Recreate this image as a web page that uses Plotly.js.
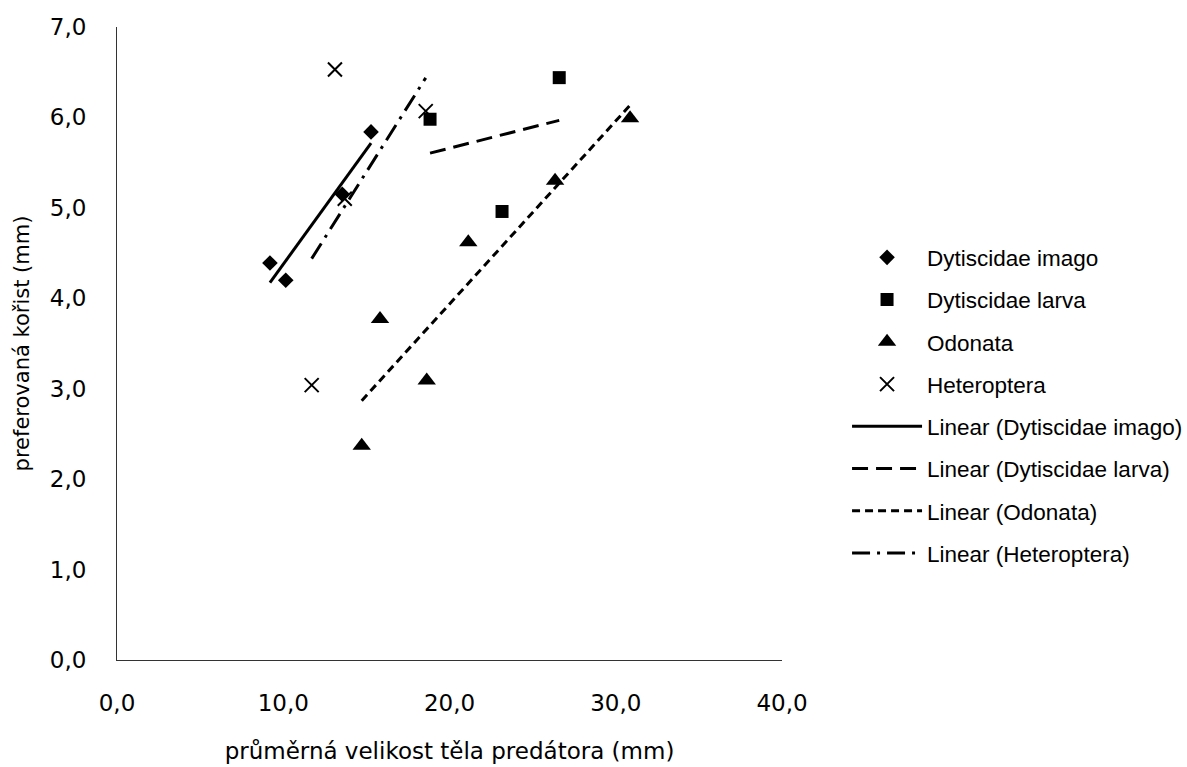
<!DOCTYPE html>
<html>
<head>
<meta charset="utf-8">
<script src="https://cdn.plot.ly/plotly-3.0.1.min.js"></script>
<style>html,body{margin:0;padding:0;background:#fff;}#chart{width:1187px;height:767px;}</style>
</head>
<body>
<div id="chart"></div>
<script>
// Data
const seriesNames = ["Dytiscidae imago", "Dytiscidae larva", "Odonata", "Heteroptera"];
const imagoX = [9.2, 10.15, 13.55, 15.28];
const imagoY = [4.39, 4.20, 5.15, 5.84];
const larvaX = [18.83, 23.16, 26.6];
const larvaY = [5.98, 4.96, 6.44];
const odonataX = [15.82, 14.72, 18.63, 21.13, 26.35, 30.86];
const odonataY = [3.77, 2.37, 3.09, 4.62, 5.30, 5.99];
const heteroX = [13.11, 11.71, 18.57, 13.7];
const heteroY = [6.53, 3.04, 6.07, 5.10];
const xTickVals = [0, 10, 20, 30, 40];
const yTickVals = [0, 1, 2, 3, 4, 5, 6, 7];

function linfit(xs, ys) {
  const n = xs.length;
  const mx = xs.reduce((a, b) => a + b, 0) / n;
  const my = ys.reduce((a, b) => a + b, 0) / n;
  let sxy = 0, sxx = 0;
  for (let i = 0; i < n; i++) { sxy += (xs[i] - mx) * (ys[i] - my); sxx += (xs[i] - mx) ** 2; }
  const b = sxy / sxx, a = my - b * mx;
  const x0 = Math.min(...xs), x1 = Math.max(...xs);
  return {x: [x0, x1], y: [a + b * x0, a + b * x1]};
}

const black = "#000000";
const markerDefs = [
  {x: imagoX, y: imagoY, symbol: "diamond", size: 12, line: {width: 0}},
  {x: larvaX, y: larvaY, symbol: "square", size: 13, line: {width: 0}},
  {x: odonataX, y: odonataY, symbol: "triangle-up", size: 16, line: {width: 0}},
  {x: heteroX, y: heteroY, symbol: "x-thin-open", size: 14, line: {width: 2, color: black}}
];
const dashes = ["solid", "16px,8px", "8px,5px", "18px,7px,3px,7px"];

const traces = [];
markerDefs.forEach((d, i) => {
  traces.push({
    type: "scatter", mode: "markers", name: seriesNames[i], x: d.x, y: d.y,
    legendgroup: "g" + i,
    marker: {symbol: d.symbol, size: d.size, color: black, line: d.line},
    hoverinfo: "x+y"
  });
});
const fits = [[imagoX, imagoY], [larvaX, larvaY], [odonataX, odonataY], [heteroX, heteroY]];
fits.forEach((f, i) => {
  const r = linfit(f[0], f[1]);
  traces.push({
    type: "scatter", mode: "lines", name: "Linear (" + seriesNames[i] + ")", x: r.x, y: r.y,
    legendgroup: "l" + i,
    line: {color: black, width: 3, dash: dashes[i]},
    hoverinfo: "skip"
  });
});

const layout = {
  width: 1187, height: 767,
  paper_bgcolor: "#ffffff", plot_bgcolor: "#ffffff",
  margin: {l: 117, r: 405, t: 27, b: 107, pad: 0},
  separators: ", ",
  font: {family: "DejaVu Sans", color: black, size: 22},
  showlegend: true,
  xaxis: {
    range: [0, 40], tickvals: xTickVals, tickformat: ".1f",
    showgrid: false, zeroline: false, showline: true, linecolor: "#333333", linewidth: 1,
    ticks: "", ticklabelstandoff: 22,
    tickfont: {family: "DejaVu Sans", size: 23, color: black},
    title: {text: "průměrná velikost těla predátora (mm)", font: {family: "DejaVu Sans", size: 23, color: black}, standoff: 28}
  },
  yaxis: {
    range: [0, 7], tickvals: yTickVals, tickformat: ".1f",
    showgrid: false, zeroline: false, showline: true, linecolor: "#333333", linewidth: 1,
    ticks: "", ticklabelstandoff: 25,
    tickfont: {family: "DejaVu Sans", size: 23, color: black},
    title: {text: "preferovaná kořist (mm)", font: {family: "DejaVu Sans", size: 21, color: black}, standoff: 14}
  },
  legend: {
    xref: "container", yref: "container", x: 0.7136, y: 0.692, xanchor: "left", yanchor: "top",
    font: {family: "Liberation Sans", size: 22.5, color: black},
    traceorder: "grouped", tracegroupgap: 10, itemwidth: 70,
    bgcolor: "rgba(0,0,0,0)", borderwidth: 0
  }
};

Plotly.newPlot("chart", traces, layout, {displayModeBar: false, staticPlot: true});
</script>
</body>
</html>
